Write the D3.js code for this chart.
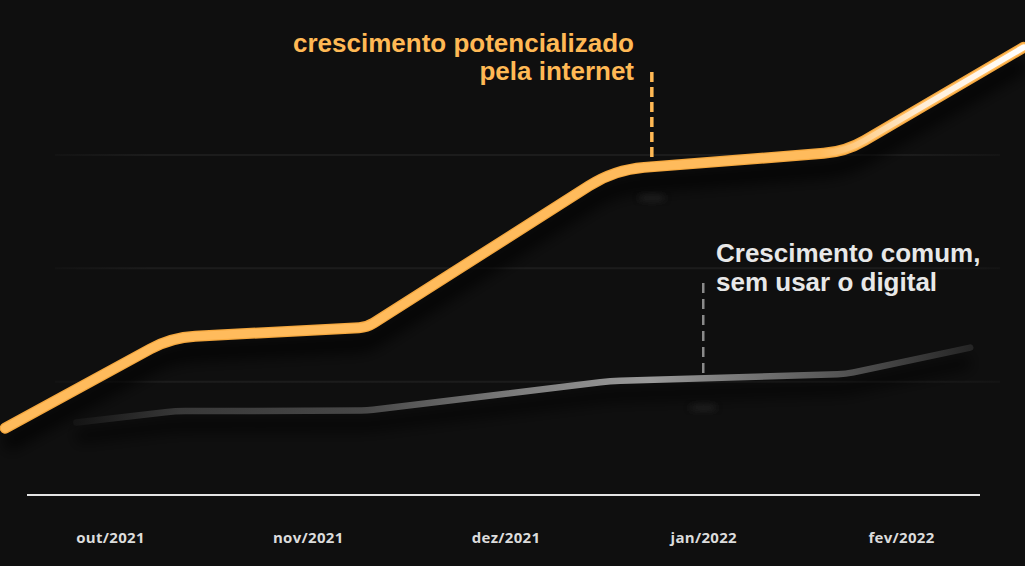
<!DOCTYPE html>
<html>
<head>
<meta charset="utf-8">
<script src="https://cdn.jsdelivr.net/npm/d3@7"></script>
<style>
  html, body { margin: 0; padding: 0; background: #0f0f0f; }
  svg { display: block; }
</style>
</head>
<body>
<svg id="chart" width="1025" height="566"></svg>
<script>
// ---- data ----
const months = ["out/2021", "nov/2021", "dez/2021", "jan/2022", "fev/2022"];
const gridValues = [1, 2, 3];
// x positions in month units (0 = out/2021), y in relative growth units
const internetX = [-0.53, 0.31, 1.3, 2.55, 3.72, 4.62];
const internetY = [0.59, 1.39, 1.48, 2.87, 3.03, 3.95];
const commonX = [-0.17, 0.33, 1.3, 2.53, 3.72, 4.35];
const commonY = [0.64, 0.74, 0.745, 1.006, 1.068, 1.30];
const labelInternet = ["crescimento potencializado", "pela internet"];
const labelCommon = ["Crescimento comum,", "sem usar o digital"];
const annotInternetX = 2.74;
const annotCommonX = 3.0;

// ---- scales ----
const svg = d3.select("#chart");
const W = 1025, H = 566;
const x = d3.scaleLinear().domain([0, 4]).range([110, 901]);
const y = d3.scaleLinear().domain([0, 3]).range([495, 155]);

const defs = svg.append("defs");
svg.append("rect").attr("width", W).attr("height", H).attr("fill", "#0f0f0f");

// gradients
const gGrid = defs.append("linearGradient").attr("id", "gGrid")
  .attr("gradientUnits", "userSpaceOnUse").attr("x1", 55).attr("x2", 1000).attr("y1", 0).attr("y2", 0);
[[0, "#131313"], [0.1, "#1c1c1c"], [0.9, "#1c1c1c"], [1, "#141414"]].forEach(s =>
  gGrid.append("stop").attr("offset", s[0]).attr("stop-color", s[1]));

const gGrey = defs.append("linearGradient").attr("id", "gGrey")
  .attr("gradientUnits", "userSpaceOnUse").attr("x1", 75).attr("x2", 975).attr("y1", 0).attr("y2", 0);
[[75, "#141414"], [180, "#393939"], [365, "#484848"], [520, "#7e7e7e"], [650, "#9a9a9a"], [780, "#6a6a6a"], [880, "#474747"], [975, "#242424"]]
  .forEach(s => gGrey.append("stop").attr("offset", (s[0] - 75) / 900).attr("stop-color", s[1]));

const gWhite = defs.append("linearGradient").attr("id", "gWhite")
  .attr("gradientUnits", "userSpaceOnUse").attr("x1", 820).attr("x2", 1025).attr("y1", 0).attr("y2", 0);
gWhite.append("stop").attr("offset", 0).attr("stop-color", "#ffffff").attr("stop-opacity", 0);
gWhite.append("stop").attr("offset", 0.5).attr("stop-color", "#ffffff").attr("stop-opacity", 0.75);
gWhite.append("stop").attr("offset", 1).attr("stop-color", "#ffffff").attr("stop-opacity", 1);

const blur = defs.append("filter").attr("id", "blur").attr("x", "-20%").attr("y", "-50%").attr("width", "140%").attr("height", "200%");
blur.append("feGaussianBlur").attr("stdDeviation", 7);
const blur2 = defs.append("filter").attr("id", "blur2").attr("x", "-50%").attr("y", "-50%").attr("width", "200%").attr("height", "200%");
blur2.append("feGaussianBlur").attr("stdDeviation", 3);

// rounded polyline path built from scaled points
function roundedPath(xs, ys, radii) {
  const p = xs.map((v, i) => [x(v), y(ys[i])]);
  let d = `M${p[0][0]},${p[0][1]}`;
  for (let i = 1; i < p.length - 1; i++) {
    const r = radii[i] || 0;
    const a = p[i - 1], b = p[i], c = p[i + 1];
    const l1 = Math.hypot(b[0] - a[0], b[1] - a[1]);
    const l2 = Math.hypot(c[0] - b[0], c[1] - b[1]);
    const s = [b[0] - (b[0] - a[0]) / l1 * r, b[1] - (b[1] - a[1]) / l1 * r];
    const e = [b[0] + (c[0] - b[0]) / l2 * r, b[1] + (c[1] - b[1]) / l2 * r];
    d += `L${s[0]},${s[1]}Q${b[0]},${b[1]} ${e[0]},${e[1]}`;
  }
  const last = p[p.length - 1];
  d += `L${last[0]},${last[1]}`;
  return d;
}

// grid lines
svg.append("g").selectAll("line").data(gridValues).join("line")
  .attr("x1", 55).attr("x2", 1000)
  .attr("y1", d => y(d)).attr("y2", d => y(d))
  .attr("stroke", "url(#gGrid)").attr("stroke-width", 2);

// baseline axis
svg.append("line").attr("x1", 27).attr("x2", 980).attr("y1", y(0)).attr("y2", y(0))
  .attr("stroke", "#e4e4e4").attr("stroke-width", 2);

// x axis labels
const xAxis = d3.axisBottom(x).tickValues(d3.range(months.length)).tickFormat(i => months[i]).tickSize(0).tickPadding(0);
const ax = svg.append("g").attr("transform", `translate(0,${y(0)})`).call(xAxis);
ax.select(".domain").remove();
ax.selectAll("text")
  .attr("dy", null).attr("y", 48)
  .attr("fill", "#dcdcdc")
  .style("font-family", "'Open Sans', sans-serif")
  .style("font-weight", 700)
  .style("font-size", "15px")
  .style("letter-spacing", "0.3px");

const pathInternet = roundedPath(internetX, internetY, [0, 24, 8, 30, 22, 0]);
const pathCommon = roundedPath(commonX, commonY, [0, 10, 6, 10, 8, 0]);

// shadows
svg.append("path").attr("d", pathCommon).attr("transform", "translate(0,14)")
  .attr("fill", "none").attr("stroke", "#000").attr("stroke-opacity", 0.55).attr("stroke-width", 14)
  .attr("filter", "url(#blur)");
svg.append("path").attr("d", pathInternet).attr("transform", "translate(0,16)")
  .attr("fill", "none").attr("stroke", "#000").attr("stroke-opacity", 0.65).attr("stroke-width", 18)
  .attr("filter", "url(#blur)");

// small smudges under annotation markers
[[annotInternetX, 2.62], [annotCommonX, 0.77]].forEach(d => {
  svg.append("ellipse").attr("cx", x(d[0])).attr("cy", y(d[1])).attr("rx", 14).attr("ry", 3.5)
    .attr("fill", "#2a2a2a").attr("opacity", 0.6).attr("filter", "url(#blur2)");
});

// common growth line
svg.append("path").attr("d", pathCommon)
  .attr("fill", "none").attr("stroke", "url(#gGrey)").attr("stroke-width", 6.5)
  .attr("stroke-linecap", "round").attr("stroke-linejoin", "round");

// internet growth line
svg.append("path").attr("d", pathInternet)
  .attr("fill", "none").attr("stroke", "#f5a83f").attr("stroke-width", 11)
  .attr("stroke-linecap", "round").attr("stroke-linejoin", "round");
svg.append("path").attr("d", pathInternet)
  .attr("fill", "none").attr("stroke", "#ffbb5c").attr("stroke-width", 8.5)
  .attr("stroke-linecap", "round").attr("stroke-linejoin", "round");
svg.append("path").attr("d", pathInternet)
  .attr("fill", "none").attr("stroke", "url(#gWhite)").attr("stroke-width", 6)
  .attr("stroke-linecap", "round").attr("stroke-linejoin", "round");

// annotation dashed lines
function valueAt(xs, ys, v) {
  for (let i = 0; i < xs.length - 1; i++) {
    if (v >= xs[i] && v <= xs[i + 1]) {
      const t = (v - xs[i]) / (xs[i + 1] - xs[i]);
      return ys[i] + t * (ys[i + 1] - ys[i]);
    }
  }
  return ys[ys.length - 1];
}
svg.append("line")
  .attr("x1", x(annotInternetX)).attr("x2", x(annotInternetX))
  .attr("y1", 72).attr("y2", y(valueAt(internetX, internetY, annotInternetX)) - 4)
  .attr("stroke", "#ffb955").attr("stroke-width", 3.5).attr("stroke-dasharray", "10,5");
svg.append("line")
  .attr("x1", x(annotCommonX)).attr("x2", x(annotCommonX))
  .attr("y1", 283).attr("y2", y(valueAt(commonX, commonY, annotCommonX)) - 2)
  .attr("stroke", "#8a8a8a").attr("stroke-width", 2.5).attr("stroke-dasharray", "10,6");

// annotation texts
const tInt = svg.append("text").attr("text-anchor", "end")
  .attr("fill", "#ffb955")
  .style("font-family", "'Liberation Sans', Arial, sans-serif")
  .style("font-weight", 700).style("font-size", "26px");
labelInternet.forEach((t, i) => tInt.append("tspan").attr("x", 634).attr("y", 52 + i * 28).text(t));

const tCom = svg.append("text").attr("text-anchor", "start")
  .attr("fill", "#e8e8e8")
  .style("font-family", "'Liberation Sans', Arial, sans-serif")
  .style("font-weight", 700).style("font-size", "26px");
labelCommon.forEach((t, i) => tCom.append("tspan").attr("x", 716).attr("y", 262 + i * 29).text(t));
</script>
</body>
</html>
